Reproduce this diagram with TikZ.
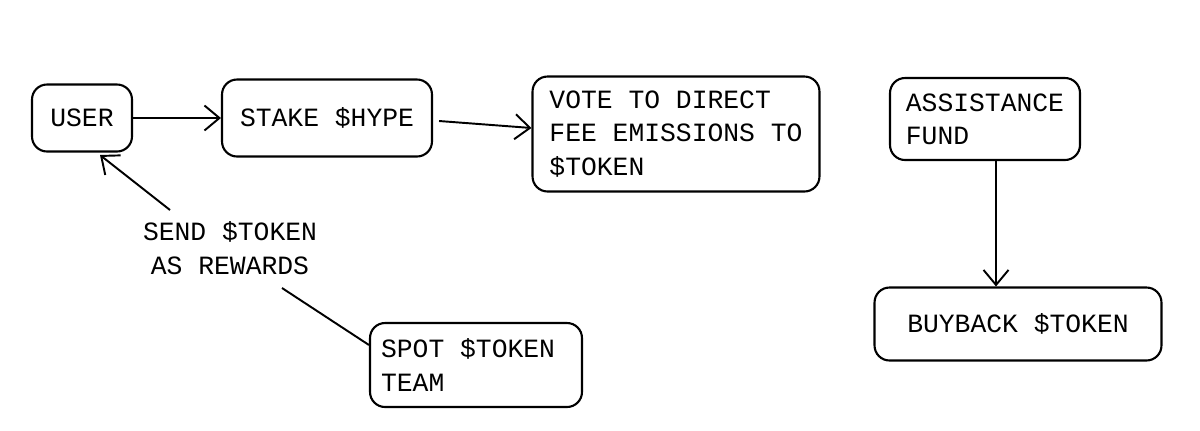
\documentclass[tikz,border=0pt]{standalone}
\usepackage{fontspec}
\setmainfont{Liberation Mono}
\usetikzlibrary{positioning,arrows.meta}
\tikzset{
  box/.style={draw, line width=1.2pt, rounded corners=3mm, minimum height=1.5cm, inner sep=2mm, font=\fontsize{15}{19}\selectfont},
  flow/.style={-{Straight Barb[length=3mm,width=5mm]}, line width=1.1pt},
}
\begin{document}
\begin{tikzpicture}[x=0.02cm,y=-0.02cm]
\useasboundingbox (0,0) rectangle (1200,430);
\node[box, minimum width=2cm, minimum height=1.34cm] (user) at (82,118) {USER};
\node[box, minimum width=4.2cm, minimum height=1.54cm] (stake) at (327,118) {STAKE \$HYPE};
\node[box, minimum width=5.74cm, minimum height=2.3cm, align=left] (vote) at (676,134) {VOTE TO DIRECT\\FEE EMISSIONS TO\\\$TOKEN};
\node[box, minimum width=3.8cm, minimum height=1.64cm, align=left] (fund) at (985,119) {ASSISTANCE\\FUND\phantom{NNNNNN}};
\node[box, minimum width=5.74cm, minimum height=1.46cm] (buyback) at (1018,324) {BUYBACK \$TOKEN};
\node[box, minimum width=4.24cm, minimum height=1.68cm, align=left] (spot) at (476,365) {SPOT \$TOKEN\\TEAM\phantom{NNNNNNNN}};
\node[font=\fontsize{15}{19}\selectfont, align=center] (reward) at (230,248) {SEND \$TOKEN\\AS REWARDS};
% arrows
\draw[flow] (user) -- (stake);
\draw[flow] (stake.east) ++(6,3) -- (vote.west |- 0,128);
\draw[flow] (fund.south -| 996,0) -- (buyback.north -| 996,0);
\draw[line width=1.1pt] (spot.west |- 0,345) -- (282,288);
\draw[flow] (170,210) -- (100,155);
\end{tikzpicture}
\end{document}
